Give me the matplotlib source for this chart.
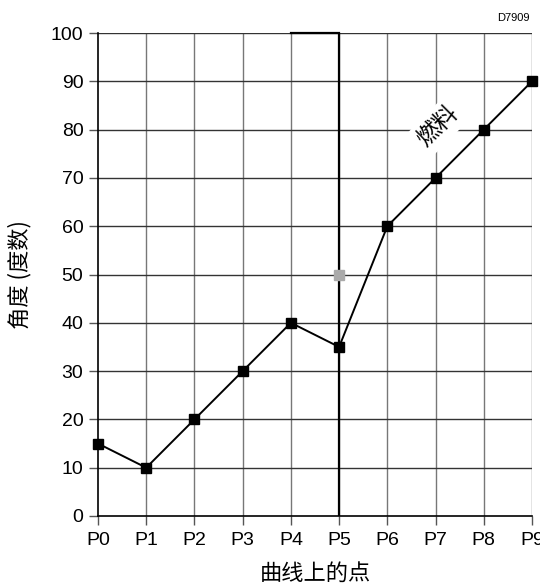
import matplotlib
matplotlib.use("Agg")
import matplotlib.pyplot as plt

plt.rcParams['font.family'] = ['Liberation Sans', 'Noto Sans CJK SC', 'DejaVu Sans']

points = ["P0", "P1", "P2", "P3", "P4", "P5", "P6", "P7", "P8", "P9"]
angles = [15, 10, 20, 30, 40, 35, 60, 70, 80, 90]
extra_x = 5
extra_y = 50
y_ticks = list(range(0, 101, 10))

cjk = ['Noto Sans CJK SC', 'DejaVu Sans']

fig = plt.figure(figsize=(5.4, 5.84), dpi=100)
ax = fig.add_axes([98 / 540, 1 - 516 / 584, (532 - 98) / 540, (516 - 33) / 584])

xs = list(range(len(points)))
ax.set_xlim(0, len(points) - 1)
ax.set_ylim(0, 100)
ax.set_xticks(xs)
ax.set_xticklabels(points)
ax.set_yticks(y_ticks)

for x in xs[1:]:
    ax.axvline(x, color="#777777", lw=1.0, zorder=1)
for y in y_ticks[1:]:
    ax.axhline(y, color="#333333", lw=1.0, zorder=1)

# thick reference line at P5 and top edge of the P4-P5 cell
ax.axvline(5, color="black", lw=1.6, zorder=2)
ax.plot([4, 5], [100, 100], color="black", lw=1.6, zorder=2, clip_on=False)

ax.plot(xs, angles, color="black", lw=1.4, marker="s", markersize=7, zorder=3,
        clip_on=False)
ax.plot([extra_x], [extra_y], linestyle="none", marker="s", markersize=7,
        color="#aaaaaa", zorder=3)

ax.text(7.05, 80.6, "燃料", rotation=45, ha="center", va="center", fontsize=17,
        family=cjk, zorder=4,
        bbox=dict(facecolor="white", edgecolor="none", pad=4))

for side in ("top", "right"):
    ax.spines[side].set_visible(False)
ax.spines["left"].set_linewidth(1.2)
ax.spines["bottom"].set_linewidth(1.2)

ax.tick_params(axis="both", labelsize=14, direction="out", length=6.5, width=1,
               color="#555555")
ax.tick_params(axis="x", pad=5)
ax.tick_params(axis="y", pad=4)

ax.set_xlabel("曲线上的点", fontsize=16, family=cjk, labelpad=9)
ax.set_ylabel("角度 (度数)", fontsize=16, family=cjk, labelpad=14)

fig.text(530 / 540, 1 - 18 / 584, "D7909", ha="right", va="center", fontsize=8)

fig.savefig("out.png", dpi=100)
